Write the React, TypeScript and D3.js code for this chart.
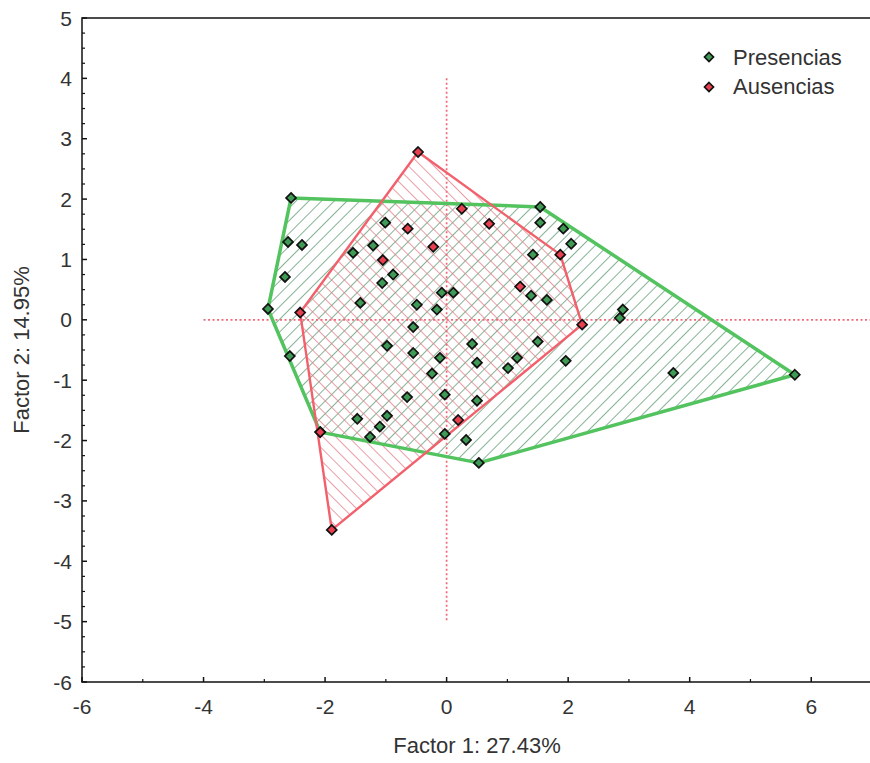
import React from "react";
import * as d3 from "d3";

// scores: [factor 1, factor 2]
const presencias: [number, number][] = [
  [-2.56, 2.02], [-2.61, 1.29], [-2.38, 1.24], [-2.66, 0.71], [-2.94, 0.18],
  [-2.58, -0.6], [-2.08, -1.86], [-1.01, 1.61], [-1.54, 1.11], [-1.21, 1.23],
  [-0.88, 0.75], [-1.06, 0.61], [-1.42, 0.28], [-0.49, 0.25], [-0.16, 0.17],
  [-0.08, 0.45], [0.11, 0.45], [-0.55, -0.12], [-0.98, -0.43], [-0.55, -0.55],
  [-0.11, -0.63], [-0.24, -0.89], [-0.65, -1.28], [-0.03, -1.24], [-1.47, -1.64],
  [-0.98, -1.59], [-1.1, -1.77], [-1.26, -1.94], [-0.03, -1.89], [0.32, -1.99],
  [0.53, -2.37], [0.42, -0.4], [0.5, -0.71], [0.5, -1.34], [1.01, -0.8],
  [1.16, -0.63], [1.5, -0.36], [1.96, -0.68], [3.73, -0.88], [5.73, -0.91],
  [1.54, 1.87], [1.54, 1.61], [1.92, 1.51], [2.05, 1.26], [1.42, 1.08],
  [1.39, 0.4], [1.65, 0.33], [2.9, 0.17], [2.85, 0.03],
];

const ausencias: [number, number][] = [
  [-0.47, 2.78], [0.25, 1.84], [0.7, 1.59], [-0.64, 1.51], [-0.22, 1.21],
  [-1.05, 0.99], [-2.41, 0.12], [1.87, 1.08], [1.21, 0.55], [2.23, -0.08],
  [0.19, -1.66], [-2.08, -1.86], [-1.89, -3.48],
];

const seriesNames = ["Presencias", "Ausencias"];
const xTitle = "Factor 1: 27.43%";
const yTitle = "Factor 2: 14.95%";
const xDomain: [number, number] = [-6, 7];
const yDomain: [number, number] = [-6, 5];
const xLabelTicks = [-6, -4, -2, 0, 2, 4, 6];
const yLabelTicks = [-6, -5, -4, -3, -2, -1, 0, 1, 2, 3, 4, 5];

const W = 870;
const H = 763;
const font = "'Liberation Sans', Arial, sans-serif";

const GREEN = "#3f9a55";
const RED = "#e8404f";
const GREEN_LINE = "#52c35e";
const RED_LINE = "#f2606c";

function Diamond({ x, y, fill, r = 5 }: { x: number; y: number; fill: string; r?: number }) {
  return (
    <path
      d={`M${x},${y - r}L${x + r},${y}L${x},${y + r}L${x - r},${y}Z`}
      fill={fill}
      stroke="#111"
      strokeWidth={1.7}
    />
  );
}

export default function App() {
  const x = d3.scaleLinear().domain(xDomain).range([82, 872]);
  const y = d3.scaleLinear().domain(yDomain).range([682, 18]);

  const greenHull = d3.polygonHull(presencias.map(([a, b]) => [x(a), y(b)] as [number, number]))!;
  const redHull = d3.polygonHull(ausencias.map(([a, b]) => [x(a), y(b)] as [number, number]))!;
  const hullPath = (pts: [number, number][]) => "M" + pts.map((p) => p.join(",")).join("L") + "Z";

  const xMinor = d3.range(-5, 7, 1).filter((v) => v % 2 !== 0);
  const yMinor = d3.range(-6, 5, 0.25).filter((v) => !Number.isInteger(v));

  return (
    <svg
      width={W}
      height={H}
      style={{ position: "absolute", left: 0, top: 0, background: "#fff" }}
      fontFamily={font}
    >
      <defs>
        <pattern id="hatchGreen" patternUnits="userSpaceOnUse" width={9} height={9} patternTransform="rotate(45)">
          <line x1={0} y1={0} x2={0} y2={9} stroke="#5f9a72" strokeWidth={1.5} />
        </pattern>
        <pattern id="hatchRed" patternUnits="userSpaceOnUse" width={9} height={9} patternTransform="rotate(-45)">
          <line x1={0} y1={0} x2={0} y2={9} stroke="#e27f8a" strokeWidth={1.5} />
        </pattern>
      </defs>

      {/* hatched hulls */}
      <path d={hullPath(greenHull)} fill="url(#hatchGreen)" />
      <path d={hullPath(redHull)} fill="url(#hatchRed)" />

      {/* origin reference lines */}
      <line x1={x(-4)} x2={x(7)} y1={y(0)} y2={y(0)} stroke="#f06878" strokeWidth={1.7} strokeDasharray="2,2.5" />
      <line x1={x(0)} x2={x(0)} y1={y(4)} y2={y(-5)} stroke="#f06878" strokeWidth={1.7} strokeDasharray="2,2.5" />

      <path d={hullPath(greenHull)} fill="none" stroke={GREEN_LINE} strokeWidth={3.5} strokeLinejoin="round" />
      <path d={hullPath(redHull)} fill="none" stroke={RED_LINE} strokeWidth={2.4} strokeLinejoin="round" />

      {presencias.map(([a, b], i) => (
        <Diamond key={"p" + i} x={x(a)} y={y(b)} fill={GREEN} />
      ))}
      {ausencias.map(([a, b], i) => (
        <Diamond key={"a" + i} x={x(a)} y={y(b)} fill={RED} />
      ))}

      {/* frame */}
      <path d={`M${x(7)},${y(5)}H${x(-6)}V${y(-6)}H${x(7)}`} fill="none" stroke="#111" strokeWidth={1.5} />

      {/* y ticks (inside) */}
      {yLabelTicks.map((v) => (
        <g key={"yt" + v}>
          <line x1={x(-6)} x2={x(-6) + 5} y1={y(v)} y2={y(v)} stroke="#111" strokeWidth={1.5} />
          <text x={72} y={y(v)} dy="0.36em" textAnchor="end" fontSize={21} fill="#333">
            {v}
          </text>
        </g>
      ))}
      {yMinor.map((v) => (
        <line key={"ym" + v} x1={x(-6)} x2={x(-6) + 3} y1={y(v)} y2={y(v)} stroke="#111" strokeWidth={1.2} />
      ))}

      {/* x ticks (inside) */}
      {xLabelTicks.map((v) => (
        <g key={"xt" + v}>
          <line x1={x(v)} x2={x(v)} y1={y(-6)} y2={y(-6) - 5} stroke="#111" strokeWidth={1.5} />
          <text x={x(v)} y={714} textAnchor="middle" fontSize={21} fill="#333">
            {v}
          </text>
        </g>
      ))}
      {xMinor.map((v) => (
        <line key={"xm" + v} x1={x(v)} x2={x(v)} y1={y(-6)} y2={y(-6) - 3} stroke="#111" strokeWidth={1.2} />
      ))}

      {/* axis titles */}
      <text x={(x(-6) + x(7)) / 2} y={753} textAnchor="middle" fontSize={22} fill="#333">
        {xTitle}
      </text>
      <text transform={`translate(29,${(y(5) + y(-6)) / 2}) rotate(-90)`} textAnchor="middle" fontSize={22} fill="#333">
        {yTitle}
      </text>

      {/* legend */}
      {seriesNames.map((name, i) => (
        <g key={name}>
          <Diamond x={709} y={57 + i * 30} fill={i === 0 ? GREEN : RED} r={4.5} />
          <text x={733} y={65 + i * 29} fontSize={22} fill="#333">
            {name}
          </text>
        </g>
      ))}
    </svg>
  );
}
